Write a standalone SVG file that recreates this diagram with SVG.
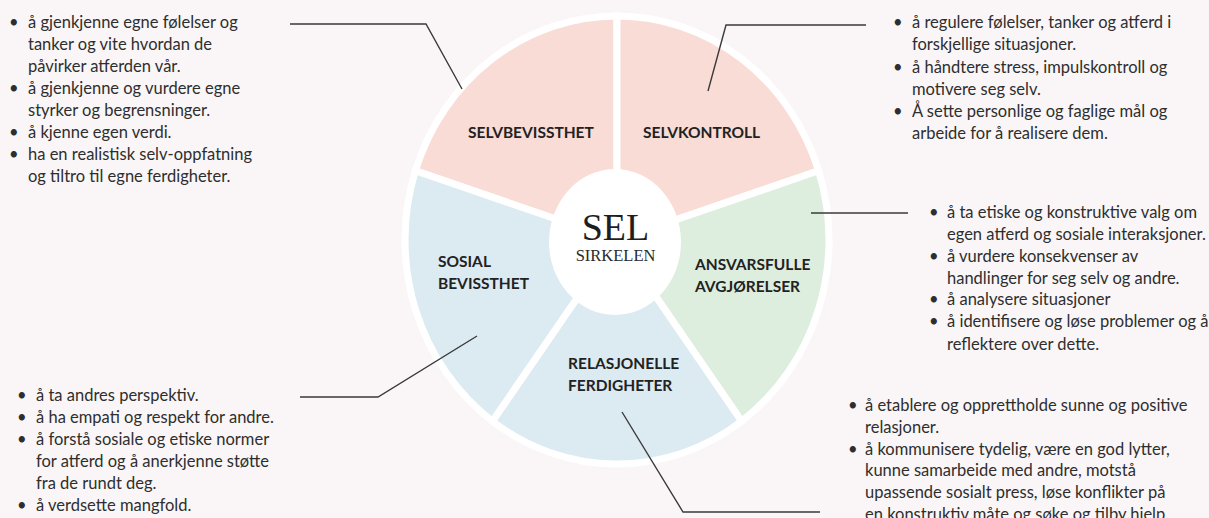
<svg xmlns="http://www.w3.org/2000/svg" width="1209" height="518" viewBox="0 0 1209 518">
<style>
.bg{fill:#faf6f7}
.sec{stroke:#ffffff;stroke-width:7;stroke-linejoin:miter}
.pink{fill:#f9dcd6}
.blue{fill:#dceaf2}
.green{fill:#ddeedf}
.lbl{font-family:Lato,"Open Sans",sans-serif;font-weight:bold;font-size:15.5px;fill:#222}
.txt{font-family:Lato,"Open Sans",sans-serif;font-size:16.5px;fill:#2e2e2e}
.con{fill:none;stroke:#3a3a3a;stroke-width:1.4}
</style>
<rect class="bg" x="0" y="0" width="1209" height="518"/>

<g id="selvbevissthet">
<path class="sec pink" d="M617,240 L415.4,170.8 A212,224 0 0 1 617,16 Z"/>
<text class="lbl" x="468" y="138">SELVBEVISSTHET</text>
<g class="txt">
<text x="9" y="28">•</text><text x="28" y="28">å gjenkjenne egne følelser og</text>
<text x="28" y="50">tanker og vite hvordan de</text>
<text x="28" y="72">påvirker atferden vår.</text>
<text x="9" y="94">•</text><text x="28" y="94">å gjenkjenne og vurdere egne</text>
<text x="28" y="116">styrker og begrensninger.</text>
<text x="9" y="138">•</text><text x="28" y="138">å kjenne egen verdi.</text>
<text x="9" y="160">•</text><text x="28" y="160">ha en realistisk selv-oppfatning</text>
<text x="28" y="182">og tiltro til egne ferdigheter.</text>
</g>
</g>

<g id="selvkontroll">
<path class="sec pink" d="M617,240 L617,16 A212,224 0 0 1 818.6,170.8 Z"/>
<text class="lbl" x="643" y="138">SELVKONTROLL</text>
<g class="txt">
<text x="893" y="28">•</text><text x="912" y="28">å regulere følelser, tanker og atferd i</text>
<text x="912" y="50">forskjellige situasjoner.</text>
<text x="893" y="73">•</text><text x="912" y="73">å håndtere stress, impulskontroll og</text>
<text x="912" y="95">motivere seg selv.</text>
<text x="893" y="117">•</text><text x="912" y="117">Å sette personlige og faglige mål og</text>
<text x="912" y="139">arbeide for å realisere dem.</text>
</g>
</g>

<g id="ansvarsfulle">
<path class="sec green" d="M617,240 L818.6,170.8 A212,224 0 0 1 741.6,421.2 Z"/>
<text class="lbl" x="695" y="270">ANSVARSFULLE</text>
<text class="lbl" x="695" y="292">AVGJØRELSER</text>
<g class="txt">
<text x="929" y="218">•</text><text x="947" y="218">å ta etiske og konstruktive valg om</text>
<text x="947" y="240">egen atferd og sosiale interaksjoner.</text>
<text x="929" y="262">•</text><text x="947" y="262">å vurdere konsekvenser av</text>
<text x="947" y="284">handlinger for seg selv og andre.</text>
<text x="929" y="305">•</text><text x="947" y="305">å analysere situasjoner</text>
<text x="929" y="327">•</text><text x="947" y="327">å identifisere og løse problemer og å</text>
<text x="947" y="350">reflektere over dette.</text>
</g>
</g>

<g id="relasjonelle">
<path class="sec blue" d="M617,240 L741.6,421.2 A212,224 0 0 1 492.4,421.2 Z"/>
<text class="lbl" x="568" y="369">RELASJONELLE</text>
<text class="lbl" x="568" y="391">FERDIGHETER</text>
<g class="txt">
<text x="848" y="411">•</text><text x="865" y="411">å etablere og opprettholde sunne og positive</text>
<text x="865" y="433">relasjoner.</text>
<text x="848" y="455">•</text><text x="865" y="455">å kommunisere tydelig, være en god lytter,</text>
<text x="865" y="476">kunne samarbeide med andre, motstå</text>
<text x="865" y="498">upassende sosialt press, løse konflikter på</text>
<text x="865" y="520">en konstruktiv måte og søke og tilby hjelp.</text>
</g>
</g>

<g id="sosial">
<path class="sec blue" d="M617,240 L492.4,421.2 A212,224 0 0 1 415.4,170.8 Z"/>
<text class="lbl" x="438" y="267">SOSIAL</text>
<text class="lbl" x="438" y="289">BEVISSTHET</text>
<g class="txt">
<text x="17" y="401">•</text><text x="36" y="401">å ta andres perspektiv.</text>
<text x="17" y="423">•</text><text x="36" y="423">å ha empati og respekt for andre.</text>
<text x="17" y="445">•</text><text x="36" y="445">å forstå sosiale og etiske normer</text>
<text x="36" y="467">for atferd og å anerkjenne støtte</text>
<text x="36" y="489">fra de rundt deg.</text>
<text x="17" y="511">•</text><text x="36" y="511">å verdsette mangfold.</text>
</g>
</g>

<g id="sel-center">
<ellipse cx="615" cy="242" rx="66" ry="73" fill="#ffffff"/>
<text x="615.5" y="240" text-anchor="middle" font-family="'Liberation Serif',serif" font-size="38" fill="#1e1e1e">SEL</text>
<text x="615.5" y="261" text-anchor="middle" font-family="'Liberation Serif',serif" font-size="16.5" fill="#2a2a2a">SIRKELEN</text>
</g>

<g id="connectors">
<polyline class="con" points="290,24 426,24 462,89"/>
<polyline class="con" points="708,91 726,25 866,25"/>
<polyline class="con" points="811,213 908,213"/>
<polyline class="con" points="300,397 378,397 477,336"/>
<polyline class="con" points="622,412 683,512 820,512"/>
</g>
</svg>
